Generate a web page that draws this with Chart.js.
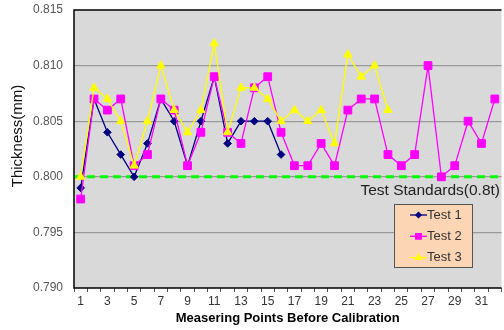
<!DOCTYPE html>
<html>
<head>
<meta charset="utf-8">
<script src="https://cdn.jsdelivr.net/npm/chart.js@4"></script>
<style>
  html, body { margin: 0; padding: 0; background: #ffffff; overflow: hidden; width: 504px; height: 330px; }
  #wrap { position: relative; width: 508px; height: 330px; }
</style>
</head>
<body>
<div id="wrap"><canvas id="chart" width="508" height="330"></canvas></div>
<script>
// Measuring points 1..32
const points = Array.from({ length: 32 }, (_, i) => String(i + 1));

// Thickness readings (mm) per test run
const test1 = [0.799, 0.807, 0.804, 0.802, 0.800, 0.803, 0.807, 0.805, 0.801, 0.805,
               0.809, 0.803, 0.805, 0.805, 0.805, 0.802];
const test2 = [0.798, 0.807, 0.806, 0.807, 0.801, 0.802, 0.807, 0.806, 0.801, 0.804,
               0.809, 0.804, 0.803, 0.808, 0.809, 0.804, 0.801, 0.801, 0.803, 0.801,
               0.806, 0.807, 0.807, 0.802, 0.801, 0.802, 0.810, 0.800, 0.801, 0.805,
               0.803, 0.807];
const test3 = [0.800, 0.808, 0.807, 0.805, 0.801, 0.805, 0.810, 0.806, 0.804, 0.806,
               0.812, 0.804, 0.808, 0.808, 0.807, 0.805, 0.806, 0.805, 0.806, 0.803,
               0.811, 0.809, 0.810, 0.806];

// Reference thickness and axis range
const standard = 0.800;
const standardLabel = 'Test Standards(0.8t)';
const yTicks = [0.790, 0.795, 0.800, 0.805, 0.810, 0.815];

const FONT = '"Liberation Sans", Arial, sans-serif';

// Green dashed standard line, its caption, frame, axis title and boxed legend
const decorations = {
  id: 'decorations',
  beforeDatasetsDraw(chart) {
    const { ctx, chartArea: a, scales } = chart;
    const y = scales.y.getPixelForValue(standard);
    ctx.save();
    ctx.strokeStyle = '#00ff00';
    ctx.lineWidth = 3;
    ctx.setLineDash([8, 5]);
    ctx.beginPath();
    ctx.moveTo(a.left, y);
    ctx.lineTo(a.right, y);
    ctx.stroke();
    ctx.restore();
  },
  afterDatasetsDraw(chart) {
    const { ctx, chartArea: a, scales } = chart;
    const y = scales.y.getPixelForValue(standard);
    ctx.save();
    // frame
    ctx.strokeStyle = '#000000';
    ctx.lineWidth = 1.5;
    ctx.beginPath();
    ctx.moveTo(a.right, a.top);
    ctx.lineTo(a.left, a.top);
    ctx.lineTo(a.left, a.bottom);
    ctx.lineTo(a.right, a.bottom);
    ctx.stroke();

    // caption under the standard line
    ctx.fillStyle = '#222222';
    ctx.font = '15.5px ' + FONT;
    ctx.textAlign = 'right';
    ctx.textBaseline = 'middle';
    ctx.fillText(standardLabel, 500, y + 14);

    // y axis title
    ctx.save();
    ctx.translate(18, 136);
    ctx.rotate(-Math.PI / 2);
    ctx.textAlign = 'center';
    ctx.textBaseline = 'middle';
    ctx.font = '15px ' + FONT;
    ctx.fillStyle = '#111111';
    ctx.fillText('Thickness(mm)', 0, 0);
    ctx.restore();

    // legend box
    const bx = 394, by = 204, bw = 78, bh = 63;
    ctx.fillStyle = '#fcd5b4';
    ctx.fillRect(bx, by, bw, bh);
    ctx.strokeStyle = '#555555';
    ctx.lineWidth = 1;
    ctx.strokeRect(bx + 0.5, by + 0.5, bw, bh);

    chart.data.datasets.forEach((ds, i) => {
      const cy = by + 11 + i * 21.3;
      ctx.strokeStyle = ds.borderColor;
      ctx.lineWidth = 1.3;
      ctx.beginPath();
      ctx.moveTo(410, cy);
      ctx.lineTo(427, cy);
      ctx.stroke();
      Chart.helpers.drawPoint(ctx, {
        pointStyle: ds.pointStyle,
        radius: ds.pointRadius * 0.7,
        borderWidth: 1,
        rotation: 0
      }, 418.5, cy);
      ctx.fillStyle = ds.pointBackgroundColor;
      ctx.fill();
      ctx.fillStyle = '#333333';
      ctx.font = '13px ' + FONT;
      ctx.textAlign = 'left';
      ctx.textBaseline = 'middle';
      ctx.fillText(ds.label, 427, cy);
    });
    ctx.restore();
  }
};

// Grey plot background
const plotBackground = {
  id: 'plotBackground',
  beforeDraw(chart) {
    const { ctx, chartArea: a } = chart;
    ctx.save();
    ctx.fillStyle = '#d9d9d9';
    ctx.fillRect(a.left, a.top, a.right - a.left, a.bottom - a.top);
    ctx.restore();
  }
};

function series(label, values, color, style, radius, order) {
  return {
    label,
    data: values,
    borderColor: color,
    backgroundColor: color,
    pointBackgroundColor: color,
    pointBorderColor: color,
    pointStyle: style,
    pointRadius: radius,
    pointHoverRadius: radius,
    pointBorderWidth: 1,
    borderWidth: 1.3,
    tension: 0,
    fill: false,
    order
  };
}

new Chart(document.getElementById('chart'), {
  type: 'line',
  data: {
    labels: points,
    datasets: [
      series('Test 1', test1, '#000080', 'rectRot', 3.8, 3),
      series('Test 2', test2, '#ff00ff', 'rect', 5.5, 2),
      series('Test 3', test3, '#ffff00', 'triangle', 4.8, 1)
    ]
  },
  options: {
    responsive: false,
    animation: false,
    layout: { padding: { left: 0, right: 2, top: 10, bottom: 0 } },
    plugins: {
      legend: { display: false },
      tooltip: { enabled: false }
    },
    scales: {
      x: {
        type: 'category',
        offset: true,
        grid: {
          offset: true,
          drawOnChartArea: false,
          drawTicks: true,
          tickLength: 4,
          color: '#555555'
        },
        border: { display: false },
        ticks: {
          autoSkip: false,
          maxRotation: 0,
          padding: 2,
          color: '#333333',
          font: { family: FONT, size: 12 },
          callback: (v, i) => (i % 2 === 0 ? points[i] : '')
        },
        title: {
          display: true,
          text: 'Measering Points Before Calibration',
          color: '#000000',
          font: { family: FONT, size: 13, weight: 'bold' },
          padding: { top: 0, bottom: 4 }
        }
      },
      y: {
        min: yTicks[0],
        max: yTicks[yTicks.length - 1],
        afterBuildTicks: (scale) => { scale.ticks = yTicks.map(v => ({ value: v })); },
        grid: {
          drawTicks: false,
          color: (c) => (c.tick && (c.tick.value === yTicks[0] || c.tick.value === yTicks[yTicks.length - 1]) ? 'rgba(0,0,0,0)' : '#9a9a9a'),
          lineWidth: 1.2
        },
        border: { display: false },
        ticks: {
          padding: 11,
          color: '#555555',
          font: { family: FONT, size: 12 },
          callback: (v) => Number(v).toFixed(3)
        },
        afterFit: (scale) => {
          scale.width = 74;
          scale.paddingTop = 0;
          scale.paddingBottom = 0;
        }
      }
    }
  },
  plugins: [plotBackground, decorations]
});
</script>
</body>
</html>
